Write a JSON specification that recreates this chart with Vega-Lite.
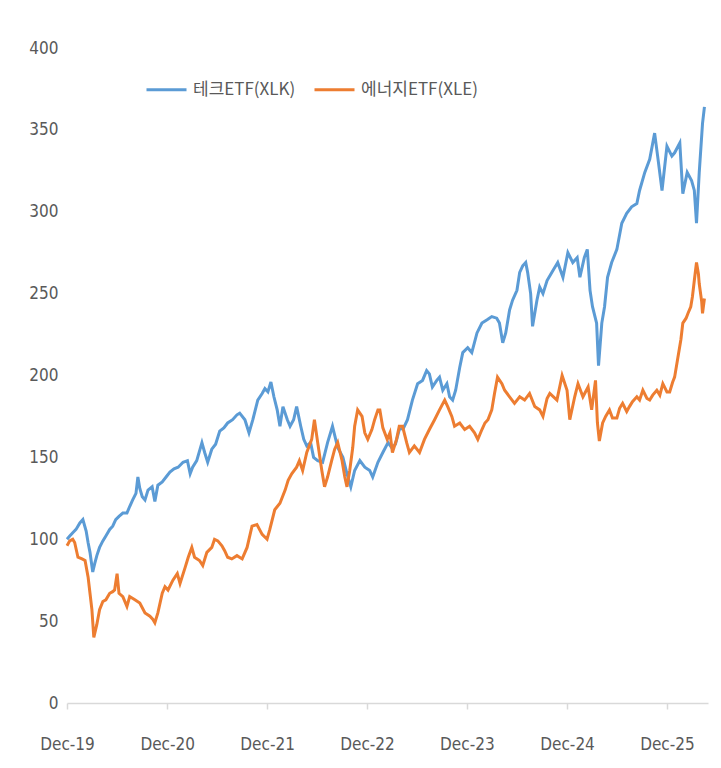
{
"$schema": "https://vega.github.io/schema/vega-lite/v6.json",
"width": 641, "height": 655,
"autosize": {"type": "none"},
"padding": {"left": 67, "top": 48, "right": 13, "bottom": 65},
"background": "#ffffff",
"config": {"view": {"stroke": null}, "font": "Liberation Sans Narrow, DejaVu Sans Condensed, sans-serif"},
"data": {"values": [
{"s":"테크ETF(XLK)","d":"2019-12-01","v":100},{"s":"테크ETF(XLK)","d":"2019-12-11","v":102},{"s":"테크ETF(XLK)","d":"2019-12-22","v":104},{"s":"테크ETF(XLK)","d":"2020-01-03","v":106},{"s":"테크ETF(XLK)","d":"2020-01-17","v":110},{"s":"테크ETF(XLK)","d":"2020-01-28","v":112},{"s":"테크ETF(XLK)","d":"2020-02-09","v":105},{"s":"테크ETF(XLK)","d":"2020-02-16","v":98},{"s":"테크ETF(XLK)","d":"2020-02-23","v":92},{"s":"테크ETF(XLK)","d":"2020-03-04","v":80},{"s":"테크ETF(XLK)","d":"2020-03-11","v":85},{"s":"테크ETF(XLK)","d":"2020-03-19","v":90},{"s":"테크ETF(XLK)","d":"2020-03-29","v":95},{"s":"테크ETF(XLK)","d":"2020-04-10","v":99},{"s":"테크ETF(XLK)","d":"2020-04-21","v":102},{"s":"테크ETF(XLK)","d":"2020-05-05","v":106},{"s":"테크ETF(XLK)","d":"2020-05-16","v":108},{"s":"테크ETF(XLK)","d":"2020-05-27","v":112},{"s":"테크ETF(XLK)","d":"2020-06-08","v":114},{"s":"테크ETF(XLK)","d":"2020-06-22","v":116},{"s":"테크ETF(XLK)","d":"2020-07-07","v":116},{"s":"테크ETF(XLK)","d":"2020-07-17","v":120},{"s":"테크ETF(XLK)","d":"2020-07-28","v":124},{"s":"테크ETF(XLK)","d":"2020-08-09","v":128},{"s":"테크ETF(XLK)","d":"2020-08-16","v":138},{"s":"테크ETF(XLK)","d":"2020-08-23","v":131},{"s":"테크ETF(XLK)","d":"2020-09-01","v":126},{"s":"테크ETF(XLK)","d":"2020-09-11","v":124},{"s":"테크ETF(XLK)","d":"2020-09-22","v":130},{"s":"테크ETF(XLK)","d":"2020-10-07","v":132},{"s":"테크ETF(XLK)","d":"2020-10-17","v":123},{"s":"테크ETF(XLK)","d":"2020-10-28","v":133},{"s":"테크ETF(XLK)","d":"2020-11-13","v":135},{"s":"테크ETF(XLK)","d":"2020-11-27","v":138},{"s":"테크ETF(XLK)","d":"2020-12-11","v":141},{"s":"테크ETF(XLK)","d":"2020-12-26","v":143},{"s":"테크ETF(XLK)","d":"2021-01-10","v":144},{"s":"테크ETF(XLK)","d":"2021-01-28","v":147},{"s":"테크ETF(XLK)","d":"2021-02-13","v":148},{"s":"테크ETF(XLK)","d":"2021-02-23","v":140},{"s":"테크ETF(XLK)","d":"2021-03-04","v":144},{"s":"테크ETF(XLK)","d":"2021-03-19","v":148},{"s":"테크ETF(XLK)","d":"2021-04-07","v":159},{"s":"테크ETF(XLK)","d":"2021-04-17","v":153},{"s":"테크ETF(XLK)","d":"2021-04-28","v":147},{"s":"테크ETF(XLK)","d":"2021-05-13","v":155},{"s":"테크ETF(XLK)","d":"2021-05-27","v":158},{"s":"테크ETF(XLK)","d":"2021-06-11","v":166},{"s":"테크ETF(XLK)","d":"2021-06-26","v":168},{"s":"테크ETF(XLK)","d":"2021-07-10","v":171},{"s":"테크ETF(XLK)","d":"2021-07-28","v":173},{"s":"테크ETF(XLK)","d":"2021-08-13","v":176},{"s":"테크ETF(XLK)","d":"2021-08-23","v":177},{"s":"테크ETF(XLK)","d":"2021-09-11","v":173},{"s":"테크ETF(XLK)","d":"2021-09-26","v":165},{"s":"테크ETF(XLK)","d":"2021-10-10","v":173},{"s":"테크ETF(XLK)","d":"2021-10-28","v":185},{"s":"테크ETF(XLK)","d":"2021-11-13","v":189},{"s":"테크ETF(XLK)","d":"2021-11-23","v":192},{"s":"테크ETF(XLK)","d":"2021-12-04","v":190},{"s":"테크ETF(XLK)","d":"2021-12-15","v":196},{"s":"테크ETF(XLK)","d":"2021-12-26","v":187},{"s":"테크ETF(XLK)","d":"2022-01-07","v":179},{"s":"테크ETF(XLK)","d":"2022-01-17","v":169},{"s":"테크ETF(XLK)","d":"2022-01-28","v":181},{"s":"테크ETF(XLK)","d":"2022-02-13","v":173},{"s":"테크ETF(XLK)","d":"2022-02-23","v":169},{"s":"테크ETF(XLK)","d":"2022-03-08","v":173},{"s":"테크ETF(XLK)","d":"2022-03-19","v":181},{"s":"테크ETF(XLK)","d":"2022-04-03","v":169},{"s":"테크ETF(XLK)","d":"2022-04-14","v":161},{"s":"테크ETF(XLK)","d":"2022-04-25","v":157},{"s":"테크ETF(XLK)","d":"2022-05-09","v":159},{"s":"테크ETF(XLK)","d":"2022-05-20","v":150},{"s":"테크ETF(XLK)","d":"2022-06-04","v":148},{"s":"테크ETF(XLK)","d":"2022-06-22","v":147},{"s":"테크ETF(XLK)","d":"2022-07-10","v":159},{"s":"테크ETF(XLK)","d":"2022-07-28","v":169},{"s":"테크ETF(XLK)","d":"2022-08-16","v":156},{"s":"테크ETF(XLK)","d":"2022-09-04","v":150},{"s":"테크ETF(XLK)","d":"2022-09-19","v":140},{"s":"테크ETF(XLK)","d":"2022-10-03","v":132},{"s":"테크ETF(XLK)","d":"2022-10-17","v":142},{"s":"테크ETF(XLK)","d":"2022-11-05","v":148},{"s":"테크ETF(XLK)","d":"2022-11-23","v":144},{"s":"테크ETF(XLK)","d":"2022-12-11","v":142},{"s":"테크ETF(XLK)","d":"2022-12-22","v":138},{"s":"테크ETF(XLK)","d":"2023-01-10","v":147},{"s":"테크ETF(XLK)","d":"2023-01-28","v":153},{"s":"테크ETF(XLK)","d":"2023-02-16","v":159},{"s":"테크ETF(XLK)","d":"2023-03-01","v":156},{"s":"테크ETF(XLK)","d":"2023-03-15","v":158},{"s":"테크ETF(XLK)","d":"2023-03-29","v":167},{"s":"테크ETF(XLK)","d":"2023-04-14","v":168},{"s":"테크ETF(XLK)","d":"2023-04-28","v":173},{"s":"테크ETF(XLK)","d":"2023-05-16","v":185},{"s":"테크ETF(XLK)","d":"2023-06-04","v":195},{"s":"테크ETF(XLK)","d":"2023-06-22","v":197},{"s":"테크ETF(XLK)","d":"2023-07-07","v":203},{"s":"테크ETF(XLK)","d":"2023-07-17","v":201},{"s":"테크ETF(XLK)","d":"2023-07-28","v":193},{"s":"테크ETF(XLK)","d":"2023-08-13","v":197},{"s":"테크ETF(XLK)","d":"2023-08-23","v":199},{"s":"테크ETF(XLK)","d":"2023-09-04","v":191},{"s":"테크ETF(XLK)","d":"2023-09-19","v":195},{"s":"테크ETF(XLK)","d":"2023-09-29","v":187},{"s":"테크ETF(XLK)","d":"2023-10-10","v":185},{"s":"테크ETF(XLK)","d":"2023-10-21","v":191},{"s":"테크ETF(XLK)","d":"2023-11-05","v":205},{"s":"테크ETF(XLK)","d":"2023-11-16","v":214},{"s":"테크ETF(XLK)","d":"2023-12-04","v":217},{"s":"테크ETF(XLK)","d":"2023-12-19","v":214},{"s":"테크ETF(XLK)","d":"2024-01-07","v":226},{"s":"테크ETF(XLK)","d":"2024-01-25","v":232},{"s":"테크ETF(XLK)","d":"2024-02-13","v":234},{"s":"테크ETF(XLK)","d":"2024-03-01","v":236},{"s":"테크ETF(XLK)","d":"2024-03-19","v":235},{"s":"테크ETF(XLK)","d":"2024-03-29","v":232},{"s":"테크ETF(XLK)","d":"2024-04-10","v":220},{"s":"테크ETF(XLK)","d":"2024-04-21","v":226},{"s":"테크ETF(XLK)","d":"2024-05-05","v":240},{"s":"테크ETF(XLK)","d":"2024-05-16","v":246},{"s":"테크ETF(XLK)","d":"2024-06-01","v":252},{"s":"테크ETF(XLK)","d":"2024-06-11","v":263},{"s":"테크ETF(XLK)","d":"2024-06-22","v":267},{"s":"테크ETF(XLK)","d":"2024-07-03","v":269},{"s":"테크ETF(XLK)","d":"2024-07-10","v":263},{"s":"테크ETF(XLK)","d":"2024-07-21","v":250},{"s":"테크ETF(XLK)","d":"2024-07-28","v":230},{"s":"테크ETF(XLK)","d":"2024-08-13","v":246},{"s":"테크ETF(XLK)","d":"2024-08-23","v":254},{"s":"테크ETF(XLK)","d":"2024-09-04","v":250},{"s":"테크ETF(XLK)","d":"2024-09-19","v":258},{"s":"테크ETF(XLK)","d":"2024-10-10","v":264},{"s":"테크ETF(XLK)","d":"2024-10-28","v":269},{"s":"테크ETF(XLK)","d":"2024-11-16","v":260},{"s":"테크ETF(XLK)","d":"2024-12-04","v":275},{"s":"테크ETF(XLK)","d":"2024-12-22","v":269},{"s":"테크ETF(XLK)","d":"2025-01-07","v":272},{"s":"테크ETF(XLK)","d":"2025-01-17","v":260},{"s":"테크ETF(XLK)","d":"2025-02-02","v":272},{"s":"테크ETF(XLK)","d":"2025-02-13","v":277},{"s":"테크ETF(XLK)","d":"2025-02-23","v":252},{"s":"테크ETF(XLK)","d":"2025-03-04","v":242},{"s":"테크ETF(XLK)","d":"2025-03-19","v":232},{"s":"테크ETF(XLK)","d":"2025-03-26","v":206},{"s":"테크ETF(XLK)","d":"2025-04-07","v":232},{"s":"테크ETF(XLK)","d":"2025-04-17","v":242},{"s":"테크ETF(XLK)","d":"2025-04-28","v":260},{"s":"테크ETF(XLK)","d":"2025-05-13","v":269},{"s":"테크ETF(XLK)","d":"2025-06-01","v":277},{"s":"테크ETF(XLK)","d":"2025-06-19","v":293},{"s":"테크ETF(XLK)","d":"2025-07-07","v":299},{"s":"테크ETF(XLK)","d":"2025-07-25","v":303},{"s":"테크ETF(XLK)","d":"2025-08-13","v":305},{"s":"테크ETF(XLK)","d":"2025-08-23","v":313},{"s":"테크ETF(XLK)","d":"2025-09-11","v":324},{"s":"테크ETF(XLK)","d":"2025-09-29","v":332},{"s":"테크ETF(XLK)","d":"2025-10-17","v":348},{"s":"테크ETF(XLK)","d":"2025-10-28","v":334},{"s":"테크ETF(XLK)","d":"2025-11-13","v":313},{"s":"테크ETF(XLK)","d":"2025-12-01","v":340},{"s":"테크ETF(XLK)","d":"2025-12-19","v":334},{"s":"테크ETF(XLK)","d":"2025-12-29","v":336},{"s":"테크ETF(XLK)","d":"2026-01-17","v":342},{"s":"테크ETF(XLK)","d":"2026-01-28","v":311},{"s":"테크ETF(XLK)","d":"2026-02-13","v":324},{"s":"테크ETF(XLK)","d":"2026-03-01","v":319},{"s":"테크ETF(XLK)","d":"2026-03-11","v":313},{"s":"테크ETF(XLK)","d":"2026-03-19","v":293},{"s":"테크ETF(XLK)","d":"2026-03-29","v":324},{"s":"테크ETF(XLK)","d":"2026-04-10","v":354},{"s":"테크ETF(XLK)","d":"2026-04-17","v":364},
{"s":"에너지ETF(XLE)","d":"2019-12-01","v":96},{"s":"에너지ETF(XLE)","d":"2019-12-11","v":99},{"s":"에너지ETF(XLE)","d":"2019-12-22","v":100},{"s":"에너지ETF(XLE)","d":"2019-12-29","v":98},{"s":"에너지ETF(XLE)","d":"2020-01-10","v":89},{"s":"에너지ETF(XLE)","d":"2020-01-25","v":88},{"s":"에너지ETF(XLE)","d":"2020-02-05","v":87},{"s":"에너지ETF(XLE)","d":"2020-02-16","v":77},{"s":"에너지ETF(XLE)","d":"2020-02-23","v":67},{"s":"에너지ETF(XLE)","d":"2020-03-01","v":57},{"s":"에너지ETF(XLE)","d":"2020-03-08","v":40},{"s":"에너지ETF(XLE)","d":"2020-03-19","v":48},{"s":"에너지ETF(XLE)","d":"2020-03-29","v":57},{"s":"에너지ETF(XLE)","d":"2020-04-10","v":62},{"s":"에너지ETF(XLE)","d":"2020-04-21","v":63},{"s":"에너지ETF(XLE)","d":"2020-05-05","v":67},{"s":"에너지ETF(XLE)","d":"2020-05-16","v":68},{"s":"에너지ETF(XLE)","d":"2020-05-23","v":69},{"s":"에너지ETF(XLE)","d":"2020-06-01","v":79},{"s":"에너지ETF(XLE)","d":"2020-06-08","v":67},{"s":"에너지ETF(XLE)","d":"2020-06-22","v":65},{"s":"에너지ETF(XLE)","d":"2020-07-07","v":59},{"s":"에너지ETF(XLE)","d":"2020-07-17","v":65},{"s":"에너지ETF(XLE)","d":"2020-08-05","v":63},{"s":"에너지ETF(XLE)","d":"2020-08-23","v":61},{"s":"에너지ETF(XLE)","d":"2020-09-11","v":55},{"s":"에너지ETF(XLE)","d":"2020-09-29","v":53},{"s":"에너지ETF(XLE)","d":"2020-10-10","v":51},{"s":"에너지ETF(XLE)","d":"2020-10-17","v":49},{"s":"에너지ETF(XLE)","d":"2020-10-28","v":55},{"s":"에너지ETF(XLE)","d":"2020-11-13","v":67},{"s":"에너지ETF(XLE)","d":"2020-11-23","v":71},{"s":"에너지ETF(XLE)","d":"2020-12-04","v":69},{"s":"에너지ETF(XLE)","d":"2020-12-22","v":75},{"s":"에너지ETF(XLE)","d":"2021-01-07","v":79},{"s":"에너지ETF(XLE)","d":"2021-01-17","v":73},{"s":"에너지ETF(XLE)","d":"2021-02-05","v":83},{"s":"에너지ETF(XLE)","d":"2021-02-16","v":89},{"s":"에너지ETF(XLE)","d":"2021-03-01","v":95},{"s":"에너지ETF(XLE)","d":"2021-03-11","v":89},{"s":"에너지ETF(XLE)","d":"2021-03-29","v":87},{"s":"에너지ETF(XLE)","d":"2021-04-10","v":84},{"s":"에너지ETF(XLE)","d":"2021-04-25","v":92},{"s":"에너지ETF(XLE)","d":"2021-05-13","v":95},{"s":"에너지ETF(XLE)","d":"2021-05-23","v":100},{"s":"에너지ETF(XLE)","d":"2021-06-04","v":99},{"s":"에너지ETF(XLE)","d":"2021-06-19","v":96},{"s":"에너지ETF(XLE)","d":"2021-06-29","v":93},{"s":"에너지ETF(XLE)","d":"2021-07-10","v":89},{"s":"에너지ETF(XLE)","d":"2021-07-25","v":88},{"s":"에너지ETF(XLE)","d":"2021-08-13","v":90},{"s":"에너지ETF(XLE)","d":"2021-09-01","v":88},{"s":"에너지ETF(XLE)","d":"2021-09-19","v":95},{"s":"에너지ETF(XLE)","d":"2021-10-07","v":108},{"s":"에너지ETF(XLE)","d":"2021-10-25","v":109},{"s":"에너지ETF(XLE)","d":"2021-11-13","v":103},{"s":"에너지ETF(XLE)","d":"2021-12-01","v":100},{"s":"에너지ETF(XLE)","d":"2021-12-11","v":106},{"s":"에너지ETF(XLE)","d":"2021-12-29","v":118},{"s":"에너지ETF(XLE)","d":"2022-01-17","v":122},{"s":"에너지ETF(XLE)","d":"2022-02-05","v":130},{"s":"에너지ETF(XLE)","d":"2022-02-16","v":136},{"s":"에너지ETF(XLE)","d":"2022-03-01","v":140},{"s":"에너지ETF(XLE)","d":"2022-03-19","v":144},{"s":"에너지ETF(XLE)","d":"2022-03-29","v":148},{"s":"에너지ETF(XLE)","d":"2022-04-10","v":142},{"s":"에너지ETF(XLE)","d":"2022-04-25","v":153},{"s":"에너지ETF(XLE)","d":"2022-05-13","v":161},{"s":"에너지ETF(XLE)","d":"2022-05-23","v":173},{"s":"에너지ETF(XLE)","d":"2022-06-04","v":159},{"s":"에너지ETF(XLE)","d":"2022-06-19","v":142},{"s":"에너지ETF(XLE)","d":"2022-06-29","v":132},{"s":"에너지ETF(XLE)","d":"2022-07-10","v":138},{"s":"에너지ETF(XLE)","d":"2022-07-25","v":148},{"s":"에너지ETF(XLE)","d":"2022-08-05","v":155},{"s":"에너지ETF(XLE)","d":"2022-08-16","v":159},{"s":"에너지ETF(XLE)","d":"2022-09-01","v":148},{"s":"에너지ETF(XLE)","d":"2022-09-11","v":138},{"s":"에너지ETF(XLE)","d":"2022-09-19","v":132},{"s":"에너지ETF(XLE)","d":"2022-09-29","v":142},{"s":"에너지ETF(XLE)","d":"2022-10-10","v":156},{"s":"에너지ETF(XLE)","d":"2022-10-17","v":169},{"s":"에너지ETF(XLE)","d":"2022-10-28","v":179},{"s":"에너지ETF(XLE)","d":"2022-11-13","v":175},{"s":"에너지ETF(XLE)","d":"2022-11-23","v":165},{"s":"에너지ETF(XLE)","d":"2022-12-04","v":161},{"s":"에너지ETF(XLE)","d":"2022-12-19","v":167},{"s":"에너지ETF(XLE)","d":"2022-12-29","v":173},{"s":"에너지ETF(XLE)","d":"2023-01-10","v":179},{"s":"에너지ETF(XLE)","d":"2023-01-17","v":179},{"s":"에너지ETF(XLE)","d":"2023-01-28","v":168},{"s":"에너지ETF(XLE)","d":"2023-02-13","v":161},{"s":"에너지ETF(XLE)","d":"2023-02-23","v":165},{"s":"에너지ETF(XLE)","d":"2023-03-04","v":153},{"s":"에너지ETF(XLE)","d":"2023-03-19","v":161},{"s":"에너지ETF(XLE)","d":"2023-03-29","v":169},{"s":"에너지ETF(XLE)","d":"2023-04-10","v":169},{"s":"에너지ETF(XLE)","d":"2023-04-25","v":159},{"s":"에너지ETF(XLE)","d":"2023-05-05","v":153},{"s":"에너지ETF(XLE)","d":"2023-05-23","v":157},{"s":"에너지ETF(XLE)","d":"2023-06-11","v":153},{"s":"에너지ETF(XLE)","d":"2023-06-29","v":161},{"s":"에너지ETF(XLE)","d":"2023-07-17","v":167},{"s":"에너지ETF(XLE)","d":"2023-08-05","v":173},{"s":"에너지ETF(XLE)","d":"2023-08-23","v":179},{"s":"에너지ETF(XLE)","d":"2023-09-11","v":185},{"s":"에너지ETF(XLE)","d":"2023-09-22","v":181},{"s":"에너지ETF(XLE)","d":"2023-10-07","v":175},{"s":"에너지ETF(XLE)","d":"2023-10-17","v":169},{"s":"에너지ETF(XLE)","d":"2023-11-05","v":171},{"s":"에너지ETF(XLE)","d":"2023-11-23","v":167},{"s":"에너지ETF(XLE)","d":"2023-12-11","v":169},{"s":"에너지ETF(XLE)","d":"2023-12-29","v":165},{"s":"에너지ETF(XLE)","d":"2024-01-10","v":161},{"s":"에너지ETF(XLE)","d":"2024-01-25","v":167},{"s":"에너지ETF(XLE)","d":"2024-02-05","v":171},{"s":"에너지ETF(XLE)","d":"2024-02-16","v":173},{"s":"에너지ETF(XLE)","d":"2024-03-01","v":179},{"s":"에너지ETF(XLE)","d":"2024-03-11","v":189},{"s":"에너지ETF(XLE)","d":"2024-03-22","v":199},{"s":"에너지ETF(XLE)","d":"2024-04-07","v":195},{"s":"에너지ETF(XLE)","d":"2024-04-17","v":191},{"s":"에너지ETF(XLE)","d":"2024-05-05","v":187},{"s":"에너지ETF(XLE)","d":"2024-05-23","v":183},{"s":"에너지ETF(XLE)","d":"2024-06-11","v":187},{"s":"에너지ETF(XLE)","d":"2024-06-29","v":185},{"s":"에너지ETF(XLE)","d":"2024-07-17","v":189},{"s":"에너지ETF(XLE)","d":"2024-08-05","v":181},{"s":"에너지ETF(XLE)","d":"2024-08-23","v":179},{"s":"에너지ETF(XLE)","d":"2024-09-04","v":175},{"s":"에너지ETF(XLE)","d":"2024-09-19","v":186},{"s":"에너지ETF(XLE)","d":"2024-09-29","v":189},{"s":"에너지ETF(XLE)","d":"2024-10-25","v":185},{"s":"에너지ETF(XLE)","d":"2024-11-13","v":200},{"s":"에너지ETF(XLE)","d":"2024-12-01","v":191},{"s":"에너지ETF(XLE)","d":"2024-12-11","v":173},{"s":"에너지ETF(XLE)","d":"2024-12-29","v":187},{"s":"에너지ETF(XLE)","d":"2025-01-10","v":195},{"s":"에너지ETF(XLE)","d":"2025-01-28","v":187},{"s":"에너지ETF(XLE)","d":"2025-02-16","v":193},{"s":"에너지ETF(XLE)","d":"2025-03-01","v":179},{"s":"에너지ETF(XLE)","d":"2025-03-15","v":197},{"s":"에너지ETF(XLE)","d":"2025-03-22","v":171},{"s":"에너지ETF(XLE)","d":"2025-03-29","v":160},{"s":"에너지ETF(XLE)","d":"2025-04-10","v":171},{"s":"에너지ETF(XLE)","d":"2025-04-21","v":175},{"s":"에너지ETF(XLE)","d":"2025-05-05","v":179},{"s":"에너지ETF(XLE)","d":"2025-05-16","v":174},{"s":"에너지ETF(XLE)","d":"2025-06-01","v":174},{"s":"에너지ETF(XLE)","d":"2025-06-11","v":180},{"s":"에너지ETF(XLE)","d":"2025-06-22","v":183},{"s":"에너지ETF(XLE)","d":"2025-07-07","v":178},{"s":"에너지ETF(XLE)","d":"2025-07-17","v":181},{"s":"에너지ETF(XLE)","d":"2025-07-28","v":184},{"s":"에너지ETF(XLE)","d":"2025-08-13","v":187},{"s":"에너지ETF(XLE)","d":"2025-08-23","v":185},{"s":"에너지ETF(XLE)","d":"2025-09-04","v":191},{"s":"에너지ETF(XLE)","d":"2025-09-19","v":186},{"s":"에너지ETF(XLE)","d":"2025-09-29","v":185},{"s":"에너지ETF(XLE)","d":"2025-10-10","v":188},{"s":"에너지ETF(XLE)","d":"2025-10-25","v":191},{"s":"에너지ETF(XLE)","d":"2025-11-05","v":188},{"s":"에너지ETF(XLE)","d":"2025-11-16","v":195},{"s":"에너지ETF(XLE)","d":"2025-12-01","v":190},{"s":"에너지ETF(XLE)","d":"2025-12-11","v":190},{"s":"에너지ETF(XLE)","d":"2025-12-22","v":196},{"s":"에너지ETF(XLE)","d":"2025-12-29","v":199},{"s":"에너지ETF(XLE)","d":"2026-01-10","v":211},{"s":"에너지ETF(XLE)","d":"2026-01-21","v":222},{"s":"에너지ETF(XLE)","d":"2026-01-28","v":232},{"s":"에너지ETF(XLE)","d":"2026-02-09","v":235},{"s":"에너지ETF(XLE)","d":"2026-02-16","v":238},{"s":"에너지ETF(XLE)","d":"2026-02-26","v":242},{"s":"에너지ETF(XLE)","d":"2026-03-04","v":248},{"s":"에너지ETF(XLE)","d":"2026-03-11","v":258},{"s":"에너지ETF(XLE)","d":"2026-03-19","v":269},{"s":"에너지ETF(XLE)","d":"2026-03-26","v":262},{"s":"에너지ETF(XLE)","d":"2026-03-29","v":256},{"s":"에너지ETF(XLE)","d":"2026-04-07","v":245},{"s":"에너지ETF(XLE)","d":"2026-04-10","v":238},{"s":"에너지ETF(XLE)","d":"2026-04-17","v":247}
]},
"mark": {"type": "line", "strokeWidth": 3, "interpolate": "linear"},
"encoding": {
  "x": {"field": "d", "type": "temporal",
    "scale": {"domain": [{"year": 2019, "month": 12, "date": 1}, {"year": 2026, "month": 4, "date": 30}], "nice": false},
    "axis": {"title": null, "grid": false, "format": "%b-%y", "formatType": "time", "labelFlush": false, "labelOverlap": false,
      "values": [{"year": 2019, "month": 12, "date": 1}, {"year": 2020, "month": 12, "date": 1}, {"year": 2021, "month": 12, "date": 1}, {"year": 2022, "month": 12, "date": 1}, {"year": 2023, "month": 12, "date": 1}, {"year": 2024, "month": 12, "date": 1}, {"year": 2025, "month": 12, "date": 1}],
      "domainColor": "#d9d9d9", "domainWidth": 1.5, "tickColor": "#d9d9d9", "tickSize": 6, "tickWidth": 1.5,
      "labelColor": "#595959", "labelFontSize": 17, "labelPadding": 27, "labelFont": "Liberation Sans Narrow, DejaVu Sans Condensed, sans-serif"}},
  "y": {"field": "v", "type": "quantitative",
    "scale": {"domain": [0, 400], "nice": false, "zero": true},
    "axis": {"title": null, "grid": false, "domain": false, "ticks": false, "values": [0, 50, 100, 150, 200, 250, 300, 350, 400],
      "labelColor": "#595959", "labelFontSize": 17, "labelPadding": 9, "labelFont": "Liberation Sans Narrow, DejaVu Sans Condensed, sans-serif"}},
  "color": {"field": "s", "type": "nominal",
    "scale": {"domain": ["테크ETF(XLK)", "에너지ETF(XLE)"], "range": ["#5B9BD5", "#ED7D31"]},
    "legend": {"title": null, "orient": "none", "legendX": 78, "legendY": 20, "direction": "horizontal",
      "symbolType": "stroke", "symbolSize": 1600, "symbolStrokeWidth": 3, "columnPadding": 12, "labelOffset": 5,
      "labelColor": "#595959", "labelFontSize": 17, "labelFont": "Liberation Sans Narrow, Noto Sans CJK KR, sans-serif"}}
}
}
